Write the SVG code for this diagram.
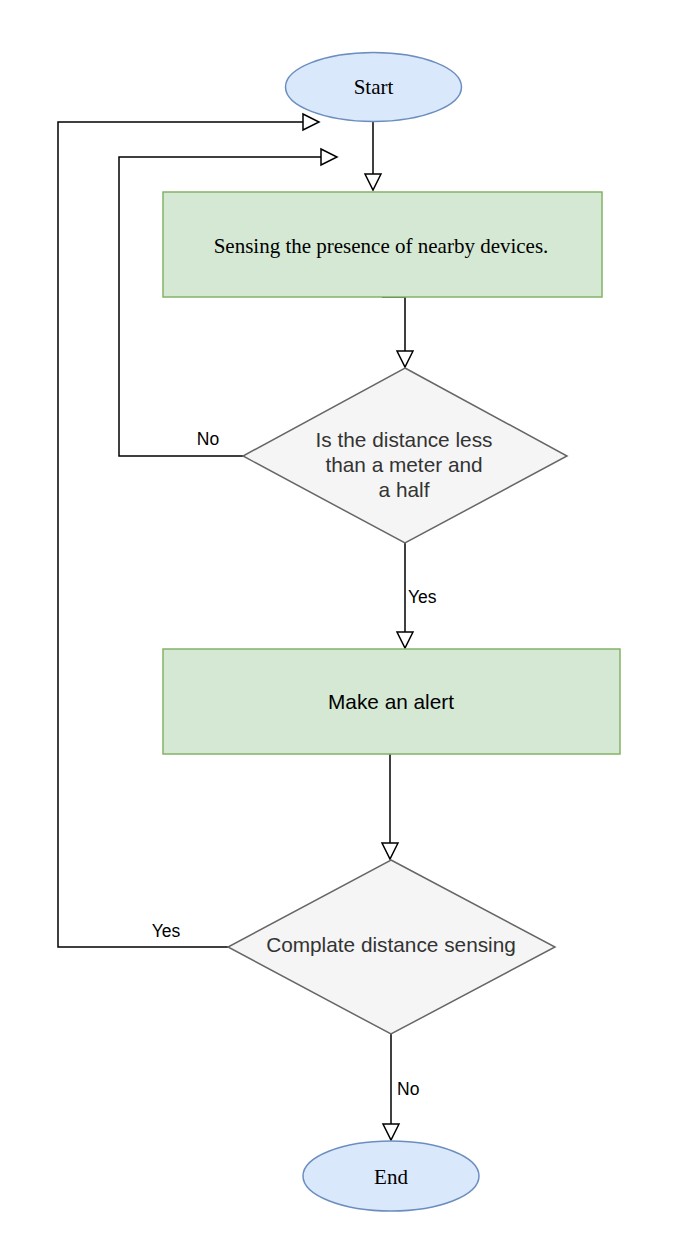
<svg xmlns="http://www.w3.org/2000/svg" width="676" height="1238" viewBox="0 0 676 1238">
<defs>
<style>
.term{fill:#dae8fc;stroke:#6c8ebf;stroke-width:1.5}
.proc{fill:#d5e8d4;stroke:#82b366;stroke-width:1.5}
.dec{fill:#f5f5f5;stroke:#666666;stroke-width:1.5}
.serif{font-family:"Liberation Serif","Times New Roman",serif;font-size:21px;fill:#000;text-anchor:middle}
.sans{font-family:"Liberation Sans",Arial,sans-serif;font-size:20.8px;fill:#333333;text-anchor:middle}
.lbl{font-family:"Liberation Sans",Arial,sans-serif;font-size:17.5px;fill:#000}
.edge{fill:none;stroke:#000;stroke-width:1.5;marker-end:url(#arr)}
</style>
<marker id="arr" markerUnits="userSpaceOnUse" markerWidth="20" markerHeight="20" viewBox="-2 -2 20 20" refX="16" refY="8" orient="auto">
<path d="M0,0 L16,8 L0,16 Z" fill="#fff" stroke="#000" stroke-width="1.5"/>
</marker>
</defs>
<rect width="676" height="1238" fill="#fff"/>
<g id="connectors">
<path class="edge" d="M373,122 L373,190"/>
<path class="edge" d="M382,297 L405,297 L405,367"/>
<path class="edge" d="M243,456 L119,456 L119,157 L337,157"/>
<path class="edge" d="M405,543 L405,648"/>
<path class="edge" d="M390,754 L390,859"/>
<path class="edge" d="M228,947 L58,947 L58,122 L319,122"/>
<path class="edge" d="M391,1034 L391,1140"/>
<text class="lbl" x="208" y="445" text-anchor="middle">No</text>
<text class="lbl" x="408" y="603">Yes</text>
<text class="lbl" x="166" y="937" text-anchor="middle">Yes</text>
<text class="lbl" x="397" y="1095">No</text>
</g>
<g id="start">
<ellipse class="term" cx="373.5" cy="87" rx="88" ry="34.5"/>
<text class="serif" x="373.5" y="94">Start</text>
</g>
<g id="sensing">
<rect class="proc" x="163" y="192" width="439" height="105"/>
<text class="serif" x="381" y="253">Sensing the presence of nearby devices.</text>
</g>
<g id="distance-check">
<polygon class="dec" points="405,368 567,456 405,543 243,456"/>
<text class="sans" x="404" y="447">Is the distance less</text>
<text class="sans" x="404" y="472">than a meter and</text>
<text class="sans" x="404" y="497">a half</text>
</g>
<g id="alert">
<rect class="proc" x="163" y="649" width="457" height="105"/>
<text class="sans" x="391" y="709" style="fill:#000">Make an alert</text>
</g>
<g id="complete-check">
<polygon class="dec" points="391,860 555,947 391,1034 228,947"/>
<text class="sans" x="391" y="952">Complate distance sensing</text>
</g>
<g id="end">
<ellipse class="term" cx="391" cy="1176" rx="88" ry="35"/>
<text class="serif" x="391" y="1184">End</text>
</g>
</svg>
